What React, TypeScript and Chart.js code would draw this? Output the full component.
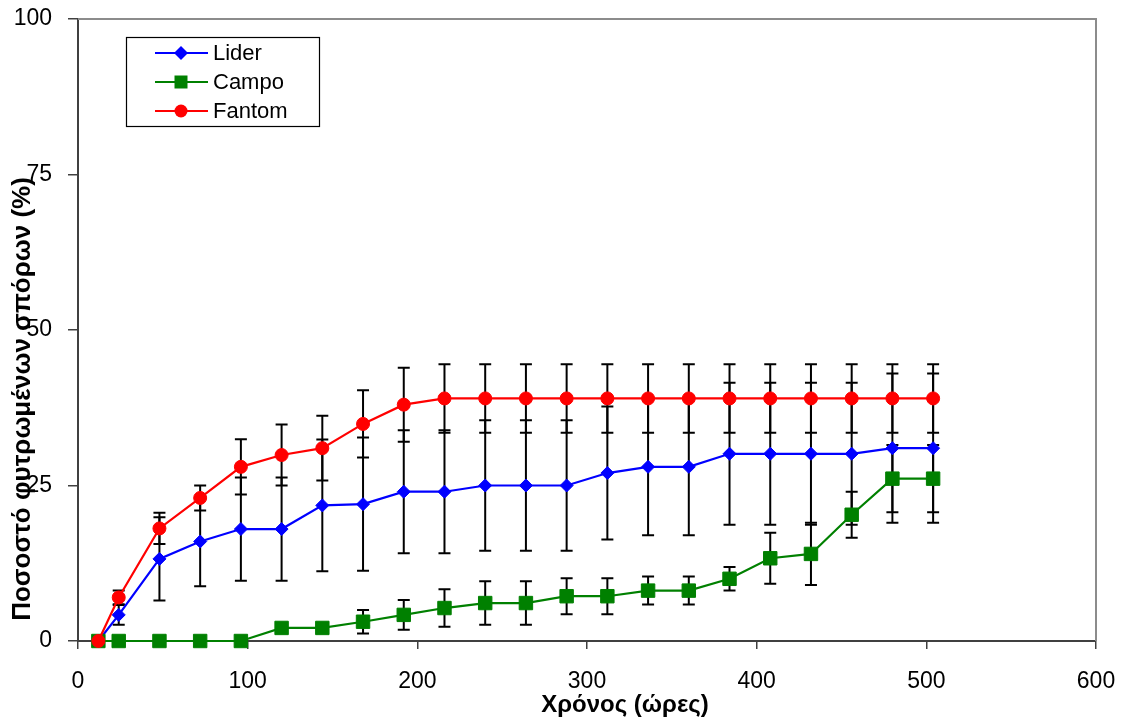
import React, { useEffect, useRef } from 'react';
import { Chart, registerables } from 'chart.js';

Chart.register(...registerables);

const FONT = '"Liberation Sans", Arial, sans-serif';

// Sampling times (hours)
const hours = [12, 24, 48, 72, 96, 120, 144, 168, 192, 216, 240, 264, 288, 312, 336, 360, 384, 408, 432, 456, 480, 504];

// Germination percentage per variety, with its error (±)
const liderMean = [0, 4.2, 13.2, 16.0, 18.0, 18.0, 21.8, 22.0, 24.0, 24.0, 25.0, 25.0, 25.0, 27.0, 28.0, 28.0, 30.1, 30.1, 30.1, 30.1, 31.0, 31.0];
const liderErr = [0, 1.6, 6.7, 7.2, 8.3, 8.3, 10.6, 10.7, 9.9, 9.9, 10.5, 10.5, 10.5, 10.7, 11.0, 11.0, 11.4, 11.4, 11.4, 11.4, 12.0, 12.0];

const campoMean = [0, 0, 0, 0, 0, 2.1, 2.1, 3.1, 4.2, 5.3, 6.1, 6.1, 7.2, 7.2, 8.1, 8.1, 10.0, 13.3, 14.0, 20.3, 26.1, 26.1];
const campoErr = [0, 0, 0, 0, 0, 0, 0, 1.9, 2.4, 3.0, 3.5, 3.5, 2.9, 2.9, 2.25, 2.25, 1.9, 4.1, 5.0, 3.7, 5.4, 5.4];

const fantomMean = [0, 7.0, 18.1, 23.0, 28.0, 29.9, 31.0, 34.9, 38.0, 39.0, 39.0, 39.0, 39.0, 39.0, 39.0, 39.0, 39.0, 39.0, 39.0, 39.0, 39.0, 39.0];
const fantomErr = [0, 1.1, 2.5, 2.0, 4.45, 4.9, 5.2, 5.4, 5.95, 5.5, 5.5, 5.5, 5.5, 5.5, 5.5, 5.5, 5.5, 5.5, 5.5, 5.5, 5.5, 5.5];

const seriesNames = ['Lider', 'Campo', 'Fantom'];
const seriesColors = ['#0000FF', '#008000', '#FF0000'];
const seriesStyles = ['rectRot', 'rect', 'circle'];

const xTitle = 'Χρόνος (ώρες)';
const yTitle = 'Ποσοστό φυτρωμένων σπόρων (%)';

const xTicks = { min: 0, max: 600, step: 100 };
const yTicks = { min: 0, max: 100, step: 25 };

// Plot frame and the vertical error bars, drawn beneath the series
const errorBarsPlugin = {
  id: 'errorBars',
  beforeDatasetsDraw(chart: any) {
    const { ctx, chartArea } = chart;
    const xs = chart.scales.x;
    const ys = chart.scales.y;
    ctx.save();
    ctx.strokeStyle = '#8c8c8c';
    ctx.lineWidth = 2;
    ctx.beginPath();
    ctx.moveTo(chartArea.left, chartArea.top);
    ctx.lineTo(chartArea.right, chartArea.top);
    ctx.lineTo(chartArea.right, chartArea.bottom);
    ctx.stroke();

    ctx.strokeStyle = '#000000';
    ctx.lineWidth = 2;
    const cap = 6;
    chart.data.datasets.forEach((ds: any) => {
      const errs: number[] = ds.errors || [];
      ds.data.forEach((pt: any, i: number) => {
        const e = errs[i];
        if (!e) return;
        const px = xs.getPixelForValue(pt.x);
        const top = ys.getPixelForValue(pt.y + e);
        const bot = ys.getPixelForValue(pt.y - e);
        ctx.beginPath();
        ctx.moveTo(px, top);
        ctx.lineTo(px, bot);
        ctx.moveTo(px - cap, top);
        ctx.lineTo(px + cap, top);
        ctx.moveTo(px - cap, bot);
        ctx.lineTo(px + cap, bot);
        ctx.stroke();
      });
    });
    ctx.restore();
  },
};

function drawMarker(ctx: CanvasRenderingContext2D, style: string, x: number, y: number, color: string) {
  ctx.fillStyle = color;
  ctx.beginPath();
  if (style === 'rectRot') {
    const r = 7;
    ctx.moveTo(x - r, y);
    ctx.lineTo(x, y - r);
    ctx.lineTo(x + r, y);
    ctx.lineTo(x, y + r);
    ctx.closePath();
  } else if (style === 'rect') {
    const s = 6.5;
    ctx.rect(x - s, y - s, 2 * s, 2 * s);
  } else {
    ctx.arc(x, y, 6.5, 0, Math.PI * 2);
  }
  ctx.fill();
}

// Boxed legend in the upper-left of the plot, plus both axis titles
const overlayPlugin = {
  id: 'overlay',
  afterDatasetsDraw(chart: any) {
    const { ctx, chartArea } = chart;
    ctx.save();
    const lx = chartArea.left + 48;
    const ly = chartArea.top + 18;
    const lw = 193;
    const lh = 89;
    ctx.fillStyle = '#ffffff';
    ctx.fillRect(lx, ly, lw, lh);
    ctx.strokeStyle = '#000000';
    ctx.lineWidth = 1.2;
    ctx.strokeRect(lx + 0.5, ly + 0.5, lw, lh);
    ctx.font = `22px ${FONT}`;
    ctx.textBaseline = 'middle';
    ctx.textAlign = 'left';
    seriesNames.forEach((name, i) => {
      const ry = ly + 16 + i * 29;
      ctx.strokeStyle = seriesColors[i];
      ctx.lineWidth = 2;
      ctx.beginPath();
      ctx.moveTo(lx + 29, ry);
      ctx.lineTo(lx + 82, ry);
      ctx.stroke();
      drawMarker(ctx, seriesStyles[i], lx + 55, ry, seriesColors[i]);
      ctx.fillStyle = '#000000';
      ctx.fillText(name, lx + 87, ry + 1);
    });

    ctx.fillStyle = '#000000';
    ctx.font = `bold 24px ${FONT}`;
    ctx.textAlign = 'center';
    ctx.textBaseline = 'alphabetic';
    ctx.fillText(xTitle, chartArea.left + 547, chart.height - 5);

    ctx.translate(23, chartArea.top + 380);
    ctx.rotate(-Math.PI / 2);
    ctx.font = `bold 26px ${FONT}`;
    ctx.textBaseline = 'middle';
    ctx.fillText(yTitle, 0, 0);
    ctx.restore();
  },
};

function makeData(means: number[]) {
  return hours.map((h, i) => ({ x: h, y: means[i] }));
}

export default function App() {
  const canvasRef = useRef<HTMLCanvasElement | null>(null);

  useEffect(() => {
    const canvas = canvasRef.current;
    if (!canvas) return;
    const means = [liderMean, campoMean, fantomMean];
    const errs = [liderErr, campoErr, fantomErr];
    const radii = [6.5, 9.5, 6.5];
    const chart = new Chart(canvas, {
      type: 'line',
      data: {
        datasets: seriesNames.map((name, i) => ({
          label: name,
          data: makeData(means[i]),
          errors: errs[i],
          borderColor: seriesColors[i],
          backgroundColor: seriesColors[i],
          pointBackgroundColor: seriesColors[i],
          pointBorderColor: seriesColors[i],
          borderWidth: 2.2,
          pointStyle: seriesStyles[i],
          pointRadius: radii[i],
          pointBorderWidth: 1,
          tension: 0,
          clip: false,
          order: 3 - i,
        })) as any,
      },
      options: {
        responsive: false,
        animation: false,
        layout: { padding: { left: 0, top: 19, right: 25, bottom: 0 } },
        plugins: {
          legend: { display: false },
          tooltip: { enabled: false },
        },
        scales: {
          x: {
            type: 'linear',
            min: xTicks.min,
            max: xTicks.max,
            ticks: {
              stepSize: xTicks.step,
              maxRotation: 0,
              padding: 19,
              color: '#000000',
              font: { family: FONT, size: 23 },
            },
            grid: { drawOnChartArea: false, tickLength: 8, color: '#404040', lineWidth: 1.5 },
            border: { color: '#404040', width: 2 },
            afterFit: (s: any) => {
              s.height = 76;
              s.paddingLeft = 0;
              s.paddingRight = 0;
            },
          },
          y: {
            min: yTicks.min,
            max: yTicks.max,
            ticks: {
              stepSize: yTicks.step,
              padding: 16,
              color: '#000000',
              font: { family: FONT, size: 23 },
            },
            grid: { drawOnChartArea: false, tickLength: 10, color: '#404040', lineWidth: 1.5 },
            border: { color: '#404040', width: 2 },
            afterFit: (s: any) => {
              s.width = 78;
              s.paddingTop = 0;
              s.paddingBottom = 0;
            },
          },
        },
      } as any,
      plugins: [errorBarsPlugin, overlayPlugin],
    });
    return () => chart.destroy();
  }, []);

  return (
    <div style={{ position: 'fixed', left: 0, top: 0, width: 1121, height: 717, background: '#ffffff' }}>
      <canvas ref={canvasRef} width={1121} height={717} />
    </div>
  );
}
